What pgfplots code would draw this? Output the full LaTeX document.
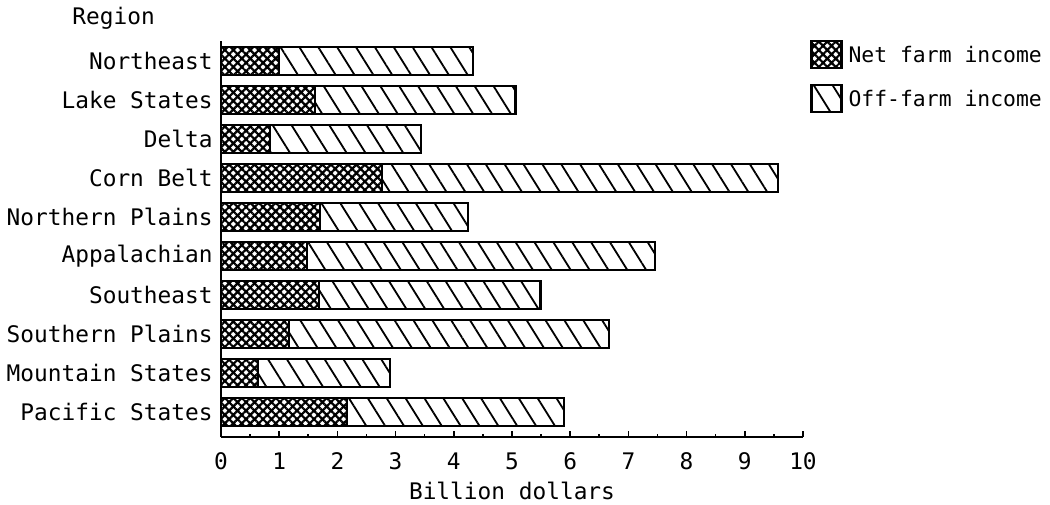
\documentclass[border=0pt]{standalone}
\usepackage{fontspec}
\setmainfont{DejaVu Sans Mono}
\usepackage{pgfplots}
\pgfplotsset{compat=1.18}
\usetikzlibrary{patterns.meta}
\pgfplotsset{boxlegend/.style={legend image code/.code={\draw[##1] (0pt,-2.6pt) rectangle (15pt,10.9pt);}}}
\begin{document}
\fontsize{11.4pt}{13pt}\selectfont
\begin{tikzpicture}
\useasboundingbox (-110.5pt,-33.5pt) rectangle (414.5pt,218.5pt);
\begin{axis}[
  at={(0,0)}, anchor=south west,
  scale only axis, width=291pt, height=198pt,
  xbar stacked, bar width=0.73,
  xmin=0, xmax=10, ymin=-0.64, ymax=9.51,
  axis x line=bottom, axis y line=left,
  axis line style={line width=1pt, -},
  xtick={0,1,...,10}, minor x tick num=1,
  tick align=inside,
  major tick length=3pt, minor tick length=1.5pt,
  x tick style={line width=0.8pt, black},
  ytick={0,...,9},
  yticklabels={Pacific States,Mountain States,Southern Plains,Southeast,Appalachian,Northern Plains,Corn Belt,Delta,Lake States,Northeast},
  y tick style={draw=none},
  yticklabel style={inner sep=0pt, anchor=east, xshift=-4pt},
  xticklabel style={inner sep=0pt, anchor=north, yshift=-7.5pt},
  /pgf/number format/assume math mode=true,
  xlabel={Billion dollars},
  xlabel style={at={(axis description cs:0.5,0)}, anchor=center, yshift=-27pt},
  legend style={draw=none, fill=none, at={(1.012,1.004)}, anchor=north west,
    inner sep=0pt, row sep=7.5pt, column sep=3pt,
    nodes={inner sep=0pt, yshift=3.5pt, font=\fontsize{10.7pt}{12pt}\selectfont}},
  legend cell align=left,
]
\addplot[draw=black, line width=1.1pt,
  pattern={Hatch[angle=45,distance=3pt,line width=1.1pt]}, pattern color=black,
  boxlegend]
  coordinates {(2.17,0) (0.64,1) (1.17,2) (1.68,3) (1.48,4) (1.70,5) (2.77,6) (0.84,7) (1.62,8) (1.00,9)};
\addlegendentry{Net farm income}
\addplot[draw=black, line width=1.1pt,
  pattern={Lines[angle=-58,distance=8pt,line width=0.9pt]}, pattern color=black,
  boxlegend]
  coordinates {(3.72,0) (2.26,1) (5.50,2) (3.81,3) (5.98,4) (2.54,5) (6.80,6) (2.59,7) (3.44,8) (3.33,9)};
\addlegendentry{Off-farm income}
\end{axis}
\node[anchor=base west, inner sep=0pt] at (-74.5pt,206pt) {Region};
\end{tikzpicture}
\end{document}
